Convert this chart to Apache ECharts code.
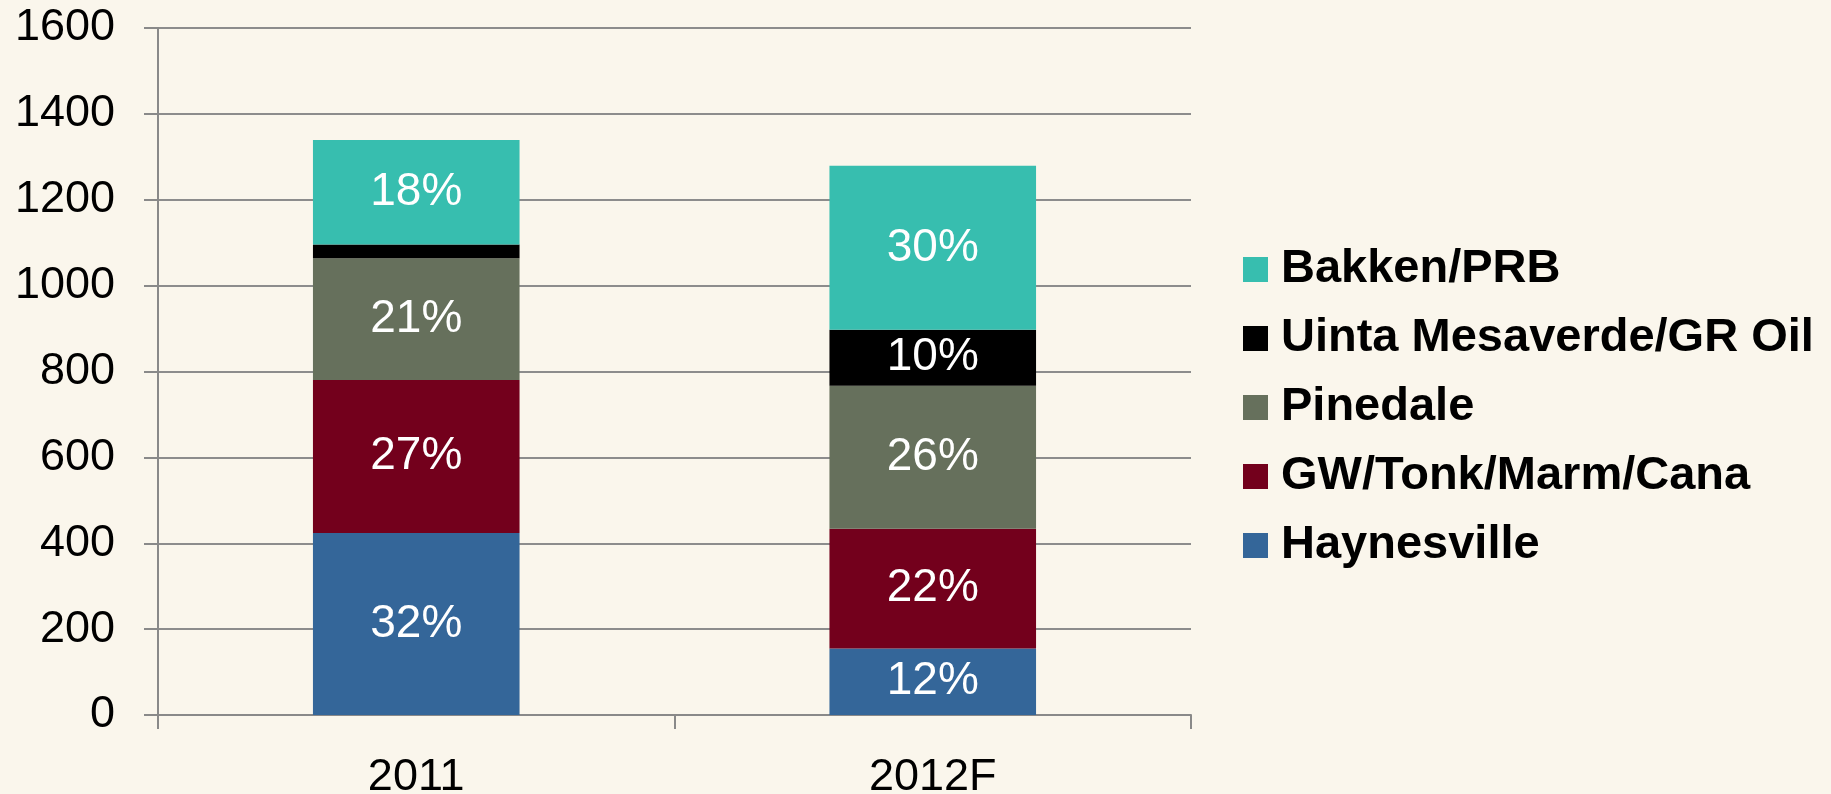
<!DOCTYPE html>
<html>
<head>
<meta charset="utf-8">
<script src="https://cdn.jsdelivr.net/npm/echarts@6/dist/echarts.min.js"></script>
<style>
  html, body { margin: 0; padding: 0; background: #faf6ec; }
  #chart { width: 1831px; height: 794px; }
</style>
</head>
<body>
<div id="chart"></div>
<script>
// ---- 数据 ----
const categories = ['2011', '2012F'];
const seriesNames = ['Haynesville', 'GW/Tonk/Marm/Cana', 'Pinedale', 'Uinta Mesaverde/GR Oil', 'Bakken/PRB'];
const haynesville = [424, 155];
const gwTonk = [356, 279];
const pinedale = [284, 333];
const uinta = [32, 130];
const bakken = [243, 382];
const yTicks = { min: 0, max: 1600, interval: 200 };

const colors = ['#346699', '#73001c', '#66705c', '#000000', '#37beaf'];
const allValues = [haynesville, gwTonk, pinedale, uinta, bakken];

// 每列合计，用来算百分比标签
const totals = categories.map((_, i) => allValues.reduce((s, arr) => s + arr[i], 0));

const FONT = "'Liberation Sans', Arial, sans-serif";

const chart = echarts.init(document.getElementById('chart'));
chart.setOption({
  backgroundColor: '#faf6ec',
  animation: false,
  // v6 默认会把 grid 往里缩以容纳标签，这里关掉，保持原图位置
  grid: { left: 158, right: 640, top: 28, bottom: 79, outerBoundsMode: 'none', containLabel: false },
  legend: {
    orient: 'vertical',
    left: 1238,
    top: 241,
    data: seriesNames.slice().reverse(),
    icon: 'rect',
    itemWidth: 25,
    itemHeight: 25,
    itemGap: 22,
    textStyle: { fontFamily: FONT, fontSize: 47, fontWeight: 'bold', color: '#000', lineHeight: 47, padding: [0, 0, 0, 8] },
  },
  xAxis: {
    type: 'category',
    data: categories,
    axisLine: { show: true, lineStyle: { color: '#898989', width: 2 } },
    axisTick: { show: true, length: 14, lineStyle: { color: '#898989', width: 2 } },
    axisLabel: { fontFamily: FONT, fontSize: 45, color: '#000', margin: 40 },
  },
  yAxis: {
    type: 'value',
    min: yTicks.min,
    max: yTicks.max,
    interval: yTicks.interval,
    axisLine: { show: true, lineStyle: { color: '#898989', width: 2 } },
    axisTick: { show: true, length: 14, lineStyle: { color: '#898989', width: 2 } },
    splitLine: { lineStyle: { color: '#8c8c8c', width: 2 } },
    axisLabel: { fontFamily: FONT, fontSize: 45, color: '#000', margin: 43, formatter: (v) => String(v) },
  },
  series: seriesNames.map((name, k) => ({
    name,
    type: 'bar',
    stack: 'total',
    barWidth: '40%',
    data: allValues[k],
    itemStyle: { color: colors[k] },
    label: {
      show: true,
      position: 'inside',
      fontFamily: FONT,
      fontSize: 46,
      color: '#fff',
      formatter: (p) => {
        const pct = p.value / totals[p.dataIndex] * 100;
        return pct < 5 ? '' : Math.round(pct) + '%';
      },
    },
  })),
});
</script>
</body>
</html>
